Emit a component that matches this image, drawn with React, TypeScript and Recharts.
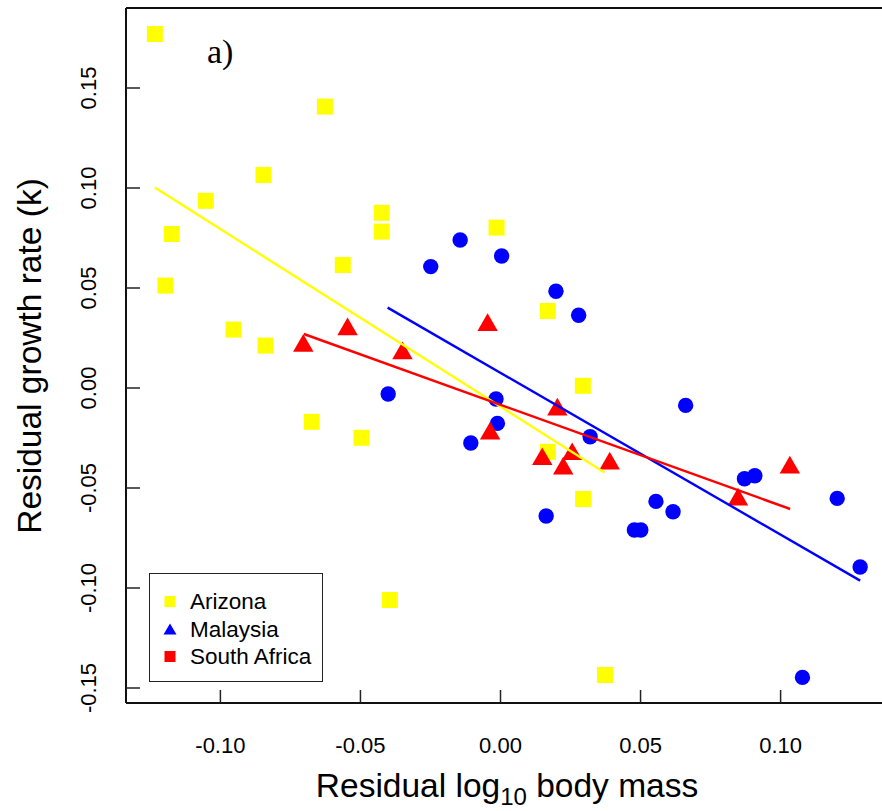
import React from 'react';
import { ScatterChart, Scatter, XAxis, YAxis, ReferenceLine, Label } from 'recharts';

// Arizona (yellow squares)
const arizonaX = [-0.1234, -0.0627, -0.0846, -0.1052, -0.1174, -0.0424, -0.0424, -0.0563, -0.0014, -0.1196,
  -0.0953, -0.0839, 0.0169, 0.0294, -0.0674, -0.0496, 0.0169, 0.0295, -0.0395, 0.0373];
const arizonaY = [0.177, 0.1407, 0.1065, 0.0936, 0.077, 0.0876, 0.0782, 0.0615, 0.0802, 0.0512,
  0.0292, 0.0212, 0.0385, 0.0011, -0.0169, -0.0249, -0.0319, -0.0555, -0.106, -0.1435];

// Malaysia (blue circles)
const malaysiaX = [-0.0144, -0.0249, 0.0004, 0.0198, 0.0279, -0.0401, -0.0016, -0.0011, -0.0106, 0.032, 0.0661,
  0.0871, 0.0908, 0.1202, 0.0555, 0.0616, 0.0163, 0.0478, 0.0501, 0.1284, 0.1078];
const malaysiaY = [0.074, 0.0607, 0.066, 0.0484, 0.0364, -0.003, -0.0055, -0.0177, -0.0275, -0.0244, -0.0087,
  -0.0454, -0.0439, -0.0552, -0.0567, -0.0619, -0.064, -0.071, -0.071, -0.0895, -0.1447];

// South Africa (red triangles)
const southAfricaX = [-0.0704, -0.0546, -0.035, -0.0046, 0.0203, 0.0256, 0.0149, 0.0224, 0.039, 0.1033, 0.0848, -0.0037];
const southAfricaY = [0.0211, 0.0293, 0.0173, 0.0315, -0.0108, -0.0331, -0.0356, -0.0403, -0.0378, -0.0398, -0.0558, -0.0228];

// fitted regression lines (end points)
const fitArizonaX = [-0.1234, 0.0371];
const fitArizonaY = [0.1002, -0.0422];
const fitMalaysiaX = [-0.0403, 0.1284];
const fitMalaysiaY = [0.0402, -0.0963];
const fitSouthAfricaX = [-0.0702, 0.1034];
const fitSouthAfricaY = [0.027, -0.0605];

const xTicks = [-0.1, -0.05, 0, 0.05, 0.1];
const yTicks = [-0.15, -0.1, -0.05, 0, 0.05, 0.1, 0.15];
const xDomain = [-0.1337, 0.1362];
const yDomain = [-0.1575, 0.19];

const legendLabels = ['Arizona', 'Malaysia', 'South Africa'];
const legendColors = ['#ffff00', '#0000ff', '#ff0000'];
const legendShapes = ['square', 'triangle', 'square'];

const FONT = '"Liberation Sans", Arial, Helvetica, sans-serif';

const toPoints = (xs: number[], ys: number[]) => xs.map((x, i) => ({ x, y: ys[i] }));

const SquareMark = (props: any) => {
  const { cx, cy, fill } = props;
  return <rect x={cx - 8} y={cy - 8} width={16} height={16} fill={fill} />;
};

const CircleMark = (props: any) => {
  const { cx, cy, fill } = props;
  return <circle cx={cx} cy={cy} r={7.7} fill={fill} />;
};

const TriangleMark = (props: any) => {
  const { cx, cy, fill } = props;
  const r = 11.8;
  const xc = r * 0.866;
  return <polygon points={`${cx},${cy - r} ${cx + xc},${cy + r / 2} ${cx - xc},${cy + r / 2}`} fill={fill} />;
};

const NoMark = () => <g />;

const XTick = (props: any) => {
  const { x, y, payload } = props;
  return (
    <g>
      <line x1={x} y1={y} x2={x} y2={y - 13} stroke="#222" strokeWidth={1.5} />
      <text x={x} y={y + 50} textAnchor="middle" fontSize={22} fontFamily={FONT} fill="#000">
        {payload.value.toFixed(2)}
      </text>
    </g>
  );
};

const YTick = (props: any) => {
  const { x, y, payload } = props;
  return (
    <g>
      <line x1={x} y1={y} x2={x + 14} y2={y} stroke="#222" strokeWidth={1.5} />
      <text
        x={x - 38}
        y={y}
        textAnchor="middle"
        dominantBaseline="central"
        fontSize={22}
        fontFamily={FONT}
        fill="#000"
        transform={`rotate(-90, ${x - 38}, ${y})`}
      >
        {payload.value.toFixed(2)}
      </text>
    </g>
  );
};

const XTitle = () => (
  <text x={507} y={797} textAnchor="middle" fontSize={33.5} fontFamily={FONT} fill="#000">
    <tspan>Residual log</tspan>
    <tspan dy={8} fontSize={24}>10</tspan>
    <tspan dy={-8}> body mass</tspan>
  </text>
);

const YTitle = () => (
  <text
    x={41}
    y={356}
    textAnchor="middle"
    fontSize={33.5}
    fontFamily={FONT}
    fill="#000"
    transform="rotate(-90, 41, 356)"
  >
    Residual growth rate (k)
  </text>
);

const LegendBox = () => (
  <div
    style={{
      position: 'absolute',
      left: 149,
      top: 573,
      width: 172,
      height: 107,
      border: '1.5px solid #222',
      background: '#fff',
      fontFamily: FONT,
      fontSize: 22.5,
    }}
  >
    {legendLabels.map((label, i) => (
      <div key={label} style={{ position: 'absolute', left: 0, top: 14 + i * 27.5, height: 27, display: 'flex', alignItems: 'center' }}>
        <svg width={40} height={27} style={{ display: 'block' }}>
          {legendShapes[i] === 'square' ? (
            <rect x={14.5} y={8} width={11} height={11} fill={legendColors[i]} />
          ) : (
            <polygon points="20,7.5 26.5,18.5 13.5,18.5" fill={legendColors[i]} />
          )}
        </svg>
        <span style={{ lineHeight: '27px' }}>{label}</span>
      </div>
    ))}
  </div>
);

export default function App() {
  return (
    <div style={{ position: 'absolute', left: 0, top: 0, width: 882, height: 811, background: '#fff' }}>
      <ScatterChart width={882} height={811} margin={{ top: 8, right: 0, bottom: 0, left: 0 }}>
        <XAxis
          type="number"
          dataKey="x"
          domain={xDomain}
          ticks={xTicks}
          allowDataOverflow
          height={108}
          tickSize={0}
          tickMargin={0}
          tick={<XTick />}
          axisLine={{ stroke: '#111', strokeWidth: 2 }}
          tickLine={false}
        >
          <Label content={<XTitle />} />
        </XAxis>
        <YAxis
          type="number"
          dataKey="y"
          domain={yDomain}
          ticks={yTicks}
          allowDataOverflow
          width={126}
          tickSize={0}
          tickMargin={0}
          tick={<YTick />}
          axisLine={{ stroke: '#111', strokeWidth: 2 }}
          tickLine={false}
        >
          <Label content={<YTitle />} />
        </YAxis>
        <ReferenceLine y={yDomain[1]} stroke="#111" strokeWidth={2} />
        <Scatter name="Arizona" data={toPoints(arizonaX, arizonaY)} fill="#ffff00" shape={<SquareMark />} isAnimationActive={false} />
        <Scatter name="Malaysia" data={toPoints(malaysiaX, malaysiaY)} fill="#0000ff" shape={<CircleMark />} isAnimationActive={false} />
        <Scatter name="South Africa" data={toPoints(southAfricaX, southAfricaY)} fill="#ff0000" shape={<TriangleMark />} isAnimationActive={false} />
        <Scatter data={toPoints(fitArizonaX, fitArizonaY)} fill="#ffff00" line={{ stroke: '#ffff00', strokeWidth: 2.4 }} shape={<NoMark />} isAnimationActive={false} />
        <Scatter data={toPoints(fitMalaysiaX, fitMalaysiaY)} fill="#0000ff" line={{ stroke: '#0000ff', strokeWidth: 2.4 }} shape={<NoMark />} isAnimationActive={false} />
        <Scatter data={toPoints(fitSouthAfricaX, fitSouthAfricaY)} fill="#ff0000" line={{ stroke: '#ff0000', strokeWidth: 2.4 }} shape={<NoMark />} isAnimationActive={false} />
      </ScatterChart>
      <div style={{ position: 'absolute', left: 207, top: 30, fontFamily: '"Liberation Serif", "Times New Roman", serif', fontSize: 34, lineHeight: '44px' }}>
        a)
      </div>
      <LegendBox />
    </div>
  );
}
